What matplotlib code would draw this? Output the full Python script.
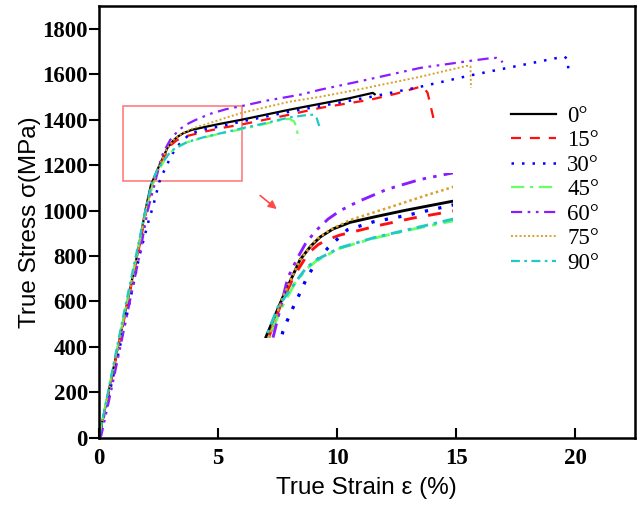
import matplotlib
matplotlib.use("Agg")
import matplotlib.pyplot as plt
from matplotlib.patches import Rectangle

# ---- data (strain %, true stress MPa) ----
x0 = [0, 0.4, 0.8, 1.2, 1.6, 1.95, 2.18, 2.53, 2.88, 3.1, 3.29, 3.55, 3.9, 4.37, 5.0, 6.0, 8.0, 9.3, 10.5, 11.5, 11.58]
y0 = [0, 200, 400, 600, 800, 1000, 1111, 1197, 1276, 1305, 1324, 1341, 1355, 1366, 1380, 1400, 1444, 1470, 1494, 1518, 1512]

x15 = [0, 0.42, 0.82, 1.22, 1.62, 2.0, 2.2, 2.47, 2.75, 3.05, 3.25, 3.43, 3.69, 4.51, 5.18, 6.0, 8.0, 9.3, 11.4, 12.5, 13.5, 13.65, 13.8, 14.05]
y15 = [0, 200, 400, 600, 800, 1000, 1100, 1176, 1240, 1290, 1308, 1318, 1328, 1349, 1364, 1379, 1422, 1452, 1488, 1515, 1545, 1540, 1518, 1405]

x30 = [0, 0.45, 0.88, 1.3, 1.7, 2.1, 2.27, 2.53, 2.67, 2.84, 3.02, 3.24, 3.45, 3.84, 4.37, 5.06, 6.0, 8.0, 9.3, 11.5, 13.5, 15.6, 16.4, 17.5, 18.5, 19.3, 19.55, 19.68, 19.72]
y30 = [0, 200, 400, 600, 800, 960, 1017, 1124, 1160, 1197, 1238, 1276, 1301, 1339, 1356, 1370, 1392, 1435, 1460, 1502, 1545, 1595, 1612, 1635, 1656, 1673, 1677, 1666, 1606]

x45 = [0, 0.38, 0.78, 1.18, 1.58, 1.98, 2.27, 2.51, 2.78, 3.0, 3.22, 3.69, 4.37, 5.06, 6.0, 7.0, 7.7, 8.0, 8.2, 8.3, 8.38]
y45 = [0, 200, 400, 600, 800, 1000, 1117, 1176, 1227, 1255, 1274, 1300, 1321, 1338, 1358, 1382, 1400, 1404, 1392, 1365, 1312]

x60 = [0, 0.1, 0.5, 0.9, 1.3, 1.7, 2.05, 2.35, 2.63, 2.84, 3.0, 3.22, 3.45, 3.7, 4.04, 4.65, 5.33, 6.0, 7.0, 8.45, 9.3, 11.0, 13.5, 15.6, 16.4, 16.7, 16.85, 16.95]
y60 = [0, 10, 200, 400, 600, 800, 1000, 1120, 1238, 1282, 1312, 1339, 1362, 1380, 1398, 1425, 1446, 1460, 1483, 1510, 1532, 1570, 1628, 1659, 1670, 1672, 1665, 1652]

x75 = [0, 0.4, 0.8, 1.2, 1.6, 1.95, 2.2, 2.53, 2.88, 3.2, 3.49, 3.9, 4.71, 5.47, 6.0, 8.0, 9.3, 11.0, 13.5, 15.45, 15.6, 15.62]
y75 = [0, 200, 400, 600, 800, 1000, 1100, 1197, 1276, 1318, 1339, 1360, 1387, 1413, 1430, 1479, 1501, 1535, 1589, 1637, 1635, 1540]

x90 = [0, 0.38, 0.76, 1.15, 1.55, 1.95, 2.22, 2.43, 2.82, 3.0, 3.22, 3.69, 4.37, 5.06, 6.0, 7.0, 8.0, 8.7, 9.0, 9.15, 9.3]
y90 = [0, 200, 400, 600, 800, 1000, 1121, 1176, 1233, 1258, 1276, 1301, 1322, 1339, 1362, 1385, 1410, 1420, 1422, 1405, 1356]

labels = ["0°", "15°", "30°", "45°", "60°", "75°", "90°"]
xticks = [0, 5, 10, 15, 20]
yticks = [0, 200, 400, 600, 800, 1000, 1200, 1400, 1600, 1800]

series = [(x0, y0), (x15, y15), (x30, y30), (x45, y45), (x60, y60), (x75, y75), (x90, y90)]
styles = [
    dict(color="black", lw=1.6, ls="-"),
    dict(color="#ff1010", lw=1.6, dashes=(4.5, 4)),
    dict(color="#0000ff", lw=1.8, dashes=(1, 3.2)),
    dict(color="#66ff66", lw=1.6, dashes=(6, 2.5, 1.5, 2.5)),
    dict(color="#8a1cff", lw=1.6, dashes=(5, 2.5, 1.2, 2.5, 1.2, 2.5)),
    dict(color="#d9a02a", lw=1.4, dashes=(1, 1.2)),
    dict(color="#20c8c8", lw=1.6, dashes=(4, 2, 1.2, 2)),
]

fig = plt.figure(figsize=(6.38, 5.05), dpi=100)
ax = fig.add_axes([0.155, 0.133, 0.840, 0.855])

for (xs, ys), st, lab in zip(series, styles, labels):
    ax.plot(xs, ys, label=lab, **st)

ax.set_xlim(0, 22.5)
ax.set_ylim(0, 1900)
ax.set_xticks(xticks)
ax.set_yticks(yticks)
for lab in ax.get_xticklabels() + ax.get_yticklabels():
    lab.set_fontfamily("Liberation Serif")
    lab.set_fontweight("bold")
    lab.set_fontsize(16.5)
ax.tick_params(axis="x", direction="in", length=7, width=1.5, pad=7)
ax.tick_params(axis="y", direction="out", length=7, width=1.5, pad=1)
for sp in ax.spines.values():
    sp.set_linewidth(1.8)

ax.set_xlabel("True Strain ε (%)", fontfamily="Liberation Sans", fontsize=17.5, labelpad=6)
ax.set_ylabel("True Stress σ(MPa)", fontfamily="Liberation Sans", fontsize=17.5, labelpad=1)

# zoom box
ax.add_patch(Rectangle((1, 1130), 5, 330, fill=False, edgecolor="#ff7373", lw=1.1))
ax.annotate("", xy=(7.56, 999), xytext=(6.68, 1074),
            arrowprops=dict(arrowstyle="-|>", color="#ff4a4a", lw=1.2, mutation_scale=12))

# inset (zoomed copy of box)
ins = ax.inset_axes([4.58, 440, 10.29, 726], transform=ax.transData)
for (xs, ys), st in zip(series, styles):
    st2 = dict(st)
    st2["lw"] = st["lw"] * 1.3
    ins.plot(xs, ys, **st2)
ins.set_xlim(1, 6)
ins.set_ylim(1110, 1460)
ins.axis("off")
ins.patch.set_alpha(0)

leg = ax.legend(loc="upper left", bbox_to_anchor=(0.752, 0.79), frameon=False,
                prop=dict(family="Liberation Serif", size=16.5),
                handlelength=1.95, handletextpad=0.5, labelspacing=0.15,
                borderaxespad=0)

fig.savefig("out.png", dpi=100)
